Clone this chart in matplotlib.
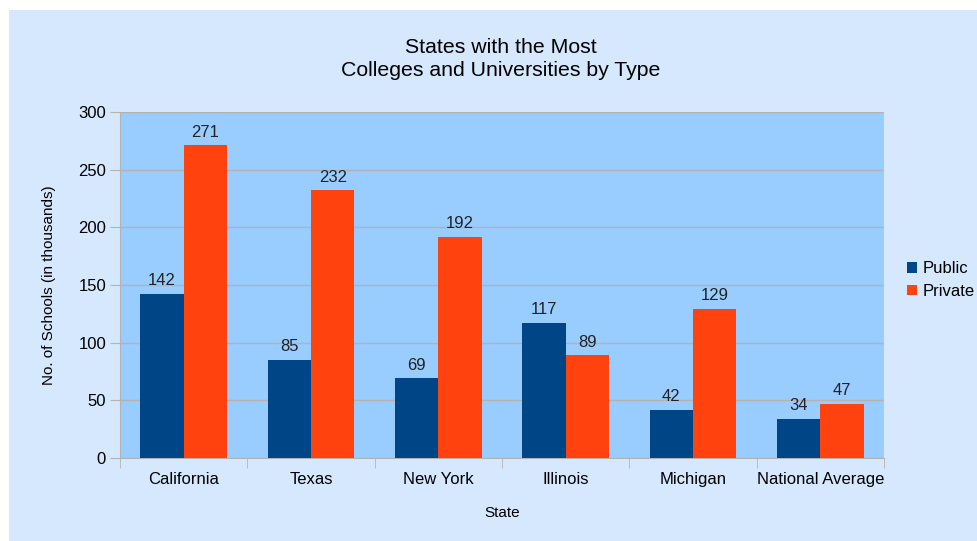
import matplotlib.pyplot as plt
import numpy as np
from matplotlib.patches import Rectangle

plt.rcParams['font.family'] = ['Liberation Sans', 'DejaVu Sans']

states = ["California", "Texas", "New York", "Illinois", "Michigan", "National Average"]
public = [142, 85, 69, 117, 42, 34]
private = [271, 232, 192, 89, 129, 47]

fig = plt.figure(figsize=(9.78, 5.41), dpi=100, facecolor="white")
# light blue panel behind the whole chart
fig.patches.append(Rectangle((9 / 978, 0), 1, 1 - 10 / 541, transform=fig.transFigure,
                             facecolor="#d6e8fd", edgecolor="none", zorder=-10))

ax = fig.add_axes([120 / 978, 1 - 458 / 541, 764 / 978, 346 / 541])
ax.set_facecolor("#99ccff")

x = np.arange(len(states))
w = 0.34
b1 = ax.bar(x - w / 2, public, width=w, color="#004586", label="Public", zorder=3)
b2 = ax.bar(x + w / 2, private, width=w, color="#ff420e", label="Private", zorder=3)
for bars in (b1, b2):
    for r in bars:
        ax.text(r.get_x() + r.get_width() / 2, r.get_height() + 5, str(int(r.get_height())),
                ha="center", va="bottom", fontsize=12, color="#222222")

ax.set_xlim(-0.5, len(states) - 0.5)
ax.set_ylim(0, 300)
ax.set_yticks(range(0, 301, 50))
ax.set_xticks(x)
ax.set_xticklabels(states)
ax.set_xticks(np.arange(-0.5, len(states)), minor=True)
ax.tick_params(axis="x", which="major", length=0, pad=10, labelsize=12)
ax.tick_params(axis="x", which="minor", length=7, color="#b3b3b3")
ax.tick_params(axis="y", length=7, color="#b3b3b3", labelsize=12, pad=3)
ax.yaxis.grid(True, color="#b3b3b3", linewidth=1, zorder=1)
ax.set_axisbelow(True)
for s in ("top", "right"):
    ax.spines[s].set_visible(False)
for s in ("left", "bottom"):
    ax.spines[s].set_color("#b3b3b3")

ax.set_xlabel("State", fontsize=11, labelpad=14)
ax.set_ylabel("No. of Schools (in thousands)", fontsize=11, labelpad=16)

fig.text(0.512, 1 - 59 / 541, "States with the Most\nColleges and Universities by Type",
         ha="center", va="center", fontsize=15.3, linespacing=1.32)

fig.legend(handles=[b1, b2], loc="center left", bbox_to_anchor=(907 / 978, 1 - 280 / 541),
           frameon=False, fontsize=12, handlelength=0.6, handleheight=0.6,
           handletextpad=0.35, labelspacing=0.45, borderpad=0, borderaxespad=0)

fig.savefig("out.png", dpi=100, facecolor="white")
